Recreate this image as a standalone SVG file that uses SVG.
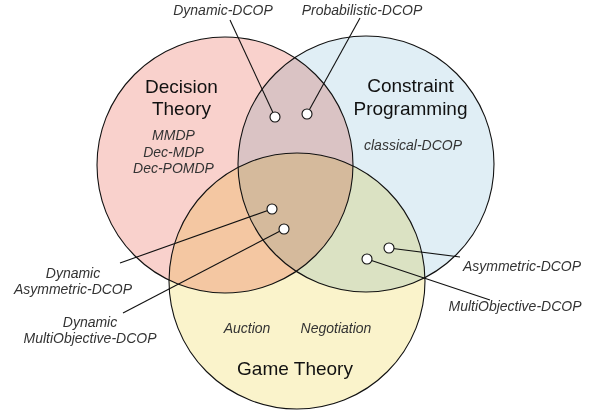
<svg xmlns="http://www.w3.org/2000/svg" width="598" height="412" viewBox="0 0 598 412">
<style>
.fill{mix-blend-mode:multiply;stroke:none}
.ring{fill:none;stroke:#111;stroke-width:1.1}
.title{font-family:"Liberation Sans",Arial,sans-serif;font-size:19px;fill:#111;text-anchor:middle}
.lab{font-family:"Liberation Sans",Arial,sans-serif;font-size:14px;font-style:italic;fill:#333;text-anchor:middle}
.ln{stroke:#111;stroke-width:1.1;fill:none}
.dot{fill:#fff;stroke:#111;stroke-width:1.1}
</style>
<rect width="598" height="412" fill="#fff"/>
<g id="sets">
<circle class="fill" cx="225" cy="165" r="128" fill="#f9d1cc"/>
<circle class="fill" cx="366" cy="164" r="128" fill="#e0eef5"/>
<circle class="fill" cx="297" cy="281" r="128" fill="#faf3cb"/>
<circle class="ring" cx="225" cy="165" r="128"/>
<circle class="ring" cx="366" cy="164" r="128"/>
<circle class="ring" cx="297" cy="281" r="128"/>
</g>
<g id="decision-theory">
<text class="title" x="181.5" y="93">Decision</text>
<text class="title" x="181.5" y="115">Theory</text>
<text class="lab" x="173.5" y="140">MMDP</text>
<text class="lab" x="173.5" y="157">Dec-MDP</text>
<text class="lab" x="173.5" y="173">Dec-POMDP</text>
</g>
<g id="constraint-programming">
<text class="title" x="410.5" y="92">Constraint</text>
<text class="title" x="410.5" y="115">Programming</text>
<text class="lab" x="413" y="150">classical-DCOP</text>
</g>
<g id="game-theory">
<text class="title" x="295" y="375">Game Theory</text>
<text class="lab" x="247" y="333">Auction</text>
<text class="lab" x="336" y="333">Negotiation</text>
</g>
<g id="connectors">
<line class="ln" x1="230" y1="20" x2="275" y2="117"/>
<line class="ln" x1="360" y1="18" x2="307" y2="114"/>
<line class="ln" x1="120" y1="263" x2="272" y2="209"/>
<line class="ln" x1="123" y1="313" x2="284" y2="229"/>
<line class="ln" x1="460" y1="257" x2="389" y2="248"/>
<line class="ln" x1="490" y1="300" x2="367" y2="259"/>
</g>
<g id="dynamic-dcop">
<circle class="dot" cx="275" cy="117" r="5"/>
<text class="lab" x="223" y="15">Dynamic-DCOP</text>
</g>
<g id="probabilistic-dcop">
<circle class="dot" cx="307" cy="114" r="5"/>
<text class="lab" x="362" y="15">Probabilistic-DCOP</text>
</g>
<g id="dynamic-asymmetric-dcop">
<circle class="dot" cx="272" cy="209" r="5"/>
<text class="lab" x="73" y="278">Dynamic</text>
<text class="lab" x="73" y="294">Asymmetric-DCOP</text>
</g>
<g id="dynamic-multiobjective-dcop">
<circle class="dot" cx="284" cy="229" r="5"/>
<text class="lab" x="90" y="327">Dynamic</text>
<text class="lab" x="90" y="343">MultiObjective-DCOP</text>
</g>
<g id="asymmetric-dcop">
<circle class="dot" cx="389" cy="248" r="5"/>
<text class="lab" x="522" y="271">Asymmetric-DCOP</text>
</g>
<g id="multiobjective-dcop">
<circle class="dot" cx="367" cy="259" r="5"/>
<text class="lab" x="515" y="311">MultiObjective-DCOP</text>
</g>
</svg>
